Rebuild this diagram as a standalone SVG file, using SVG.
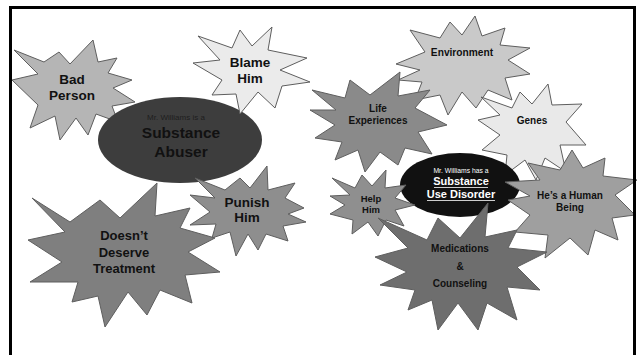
<svg xmlns="http://www.w3.org/2000/svg" width="638" height="355" viewBox="0 0 638 355">
<style>
.star{stroke:#5e5e5e;stroke-width:1;stroke-linejoin:miter}
.lbl{font-family:"Liberation Sans",Arial,sans-serif;font-weight:bold;fill:#111;text-anchor:middle}
.sm{font-family:"Liberation Sans",Arial,sans-serif;text-anchor:middle}
</style>
<rect x="0" y="0" width="638" height="355" fill="#fff"/>
<g id="connectors"/>
<g id="bad-person">
<polygon class="star" fill="#b5b5b5" points="14,50 44,62 59,52 70,64 93,40 98,62 117,58 108,73 132,80 113,88 135,102 112,106 118,122 96,114 88,135 76,118 60,140 55,116 30,128 38,105 12,80 38,74"/>
<text class="lbl" font-size="13.5" x="72" y="84">Bad</text>
<text class="lbl" font-size="13.5" x="72" y="100">Person</text>
</g>
<g id="substance-abuser">
<ellipse cx="180" cy="140" rx="82" ry="43" fill="#3d3d3d"/>
<text class="sm" font-size="8" fill="#1e1e1e" x="176" y="120">Mr. Williams is a</text>
<text class="lbl" font-size="15.5" x="181" y="138">Substance</text>
<text class="lbl" font-size="15.5" x="181" y="157">Abuser</text>
</g>
<g id="blame-him">
<polygon class="star" fill="#ebebeb" points="193,63 220,60 198,36 232,48 240,30 252,46 272,27 268,50 307,58 280,70 310,82 282,86 275,108 258,92 240,114 236,94 212,95 222,80"/>
<text class="lbl" font-size="13.5" x="250" y="67">Blame</text>
<text class="lbl" font-size="13.5" x="250" y="83">Him</text>
</g>
<g id="doesnt-deserve">
<polygon class="star" fill="#7f7f7f" points="32,198 70,222 100,200 120,218 157,183 155,216 190,208 180,228 215,238 188,252 220,272 185,275 192,303 160,290 147,315 128,292 105,327 98,296 72,302 78,282 30,282 62,262 28,240 65,232"/>
<text class="lbl" font-size="13" x="124" y="240">Doesn’t</text>
<text class="lbl" font-size="13" x="124" y="257">Deserve</text>
<text class="lbl" font-size="13" x="124" y="273">Treatment</text>
</g>
<g id="punish-him">
<polygon class="star" fill="#8e8e8e" points="195,178 225,190 240,178 250,188 267,166 268,190 295,183 285,198 304,208 288,214 306,222 283,226 288,241 266,234 258,250 248,234 236,256 230,232 212,238 216,224 190,225 210,212 190,195 215,198"/>
<text class="lbl" font-size="13.5" x="247" y="207">Punish</text>
<text class="lbl" font-size="13.5" x="247" y="222">Him</text>
</g>
<g id="environment">
<polygon class="star" fill="#c9c9c9" points="396,64 425,52 410,30 440,38 450,22 462,35 475,16 482,36 505,28 500,45 530,48 508,60 530,74 505,78 512,100 488,90 476,108 462,92 448,115 440,95 415,100 422,82 398,80 420,70"/>
<text class="lbl" font-size="10.2" x="462" y="56">Environment</text>
</g>
<g id="life-experiences">
<polygon class="star" fill="#8a8a8a" points="312,90 345,98 350,80 370,95 400,72 398,96 430,90 415,108 447,125 418,132 432,154 405,148 398,165 380,152 365,172 358,150 335,160 342,142 315,138 335,125 310,110 336,110"/>
<text class="lbl" font-size="10" x="378" y="112">Life</text>
<text class="lbl" font-size="10" x="378" y="124">Experiences</text>
</g>
<g id="genes">
<polygon class="star" fill="#e9e9e9" points="481,97 512,108 520,92 532,104 548,84 552,105 582,104 566,122 586,145 560,145 566,172 545,158 536,180 525,160 505,175 507,155 482,150 500,135 478,120 500,115"/>
<text class="lbl" font-size="10" x="532" y="124">Genes</text>
</g>
<g id="substance-use-disorder">
<ellipse cx="460" cy="185" rx="60" ry="32" fill="#111"/>
<text class="sm" font-size="6.8" fill="#fff" x="461" y="173">Mr. Williams has a</text>
<text class="lbl" font-size="11" style="fill:#fff" x="461" y="185">Substance</text>
<text class="lbl" font-size="11" style="fill:#fff" x="461" y="198">Use Disorder</text>
<line x1="434" y1="187.5" x2="488" y2="187.5" stroke="#fff" stroke-width="0.8"/>
<line x1="427" y1="200.5" x2="495" y2="200.5" stroke="#fff" stroke-width="0.8"/>
</g>
<g id="help-him">
<polygon class="star" fill="#8f8f8f" points="332,178 355,188 362,175 372,186 386,170 385,188 406,185 395,198 415,205 395,210 404,226 386,220 378,236 368,222 352,234 353,220 330,214 345,205 330,196 350,195"/>
<text class="lbl" font-size="9.5" x="371" y="202">Help</text>
<text class="lbl" font-size="9.5" x="371" y="213">Him</text>
</g>
<g id="human-being">
<polygon class="star" fill="#9f9f9f" points="505,182 540,180 528,163 560,170 572,150 583,168 605,158 603,176 637,180 615,195 635,215 612,218 618,240 595,230 588,255 570,238 545,258 548,235 515,232 530,215 508,200 530,196"/>
<text class="lbl" font-size="10" x="570" y="199">He’s a Human</text>
<text class="lbl" font-size="10" x="570" y="211">Being</text>
</g>
<g id="medications-counseling">
<polygon class="star" fill="#6e6e6e" points="378,218 427,240 438,218 460,238 488,203 485,237 517,230 508,248 547,252 517,267 540,290 507,287 517,320 487,303 478,330 458,303 438,330 432,300 408,310 415,290 380,285 407,272 375,257 408,248"/>
<text class="lbl" font-size="10" x="460" y="252">Medications</text>
<text class="lbl" font-size="10" x="460" y="270">&amp;</text>
<text class="lbl" font-size="10" x="460" y="287">Counseling</text>
</g>
<rect x="10.5" y="7.5" width="624" height="400" fill="none" stroke="#000" stroke-width="3"/>
</svg>
